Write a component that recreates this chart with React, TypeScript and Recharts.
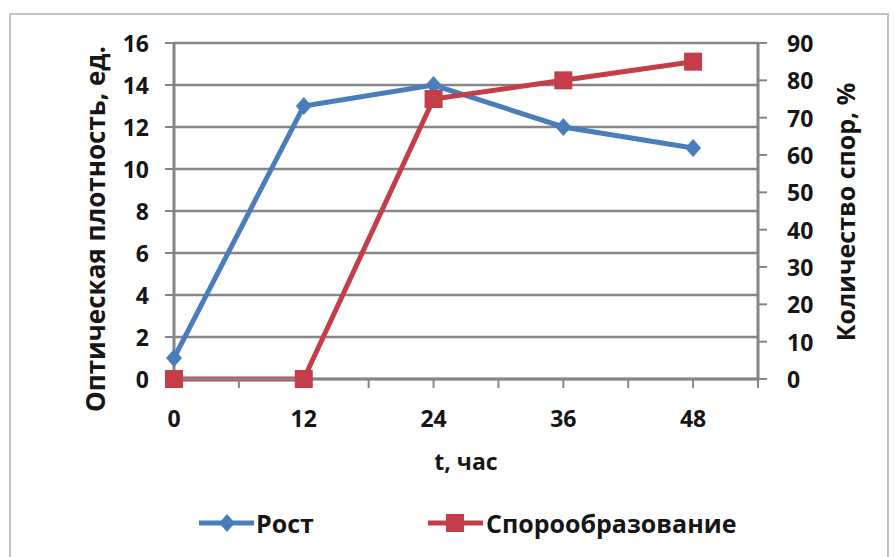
import { LineChart, Line, XAxis, YAxis, CartesianGrid, Legend, Label } from 'recharts';

const hours = [0, 12, 24, 36, 48];
const growth = [1, 13, 14, 12, 11];
const sporulation = [0, 0, 75, 80, 85];

const xTicks = [0, 6, 12, 18, 24, 30, 36, 42, 48, 54];
const xLabels = [0, 12, 24, 36, 48];
const leftTicks = [0, 2, 4, 6, 8, 10, 12, 14, 16];
const rightTicks = [0, 10, 20, 30, 40, 50, 60, 70, 80, 90];

const data = hours.map((t, i) => ({ t, growth: growth[i], spores: sporulation[i] }));

const BLUE = '#4A7EBB';
const RED = '#C43E4A';
const GRID = '#868686';
const INK = '#161616';
const FONT = "'Open Sans', sans-serif";
const TICK_SIZE = 23;

const Diamond = ({ cx, cy, color }: any) => (
    <path d={`M${cx},${cy - 9}L${cx + 8},${cy}L${cx},${cy + 9}L${cx - 8},${cy}Z`} fill={color} />
);

const Square = ({ cx, cy, color }: any) => (
    <rect x={cx - 9} y={cy - 9} width={18} height={18} fill={color} />
);

// tick text drawn by hand so the font size is exactly what we want
const xTick = ({ x, y, payload }: any) =>
    xLabels.includes(payload.value) ? (
        <text x={x} y={y} dy={17} textAnchor="middle" fill={INK} fontSize={TICK_SIZE} fontWeight={700} fontFamily={FONT}>
            {payload.value}
        </text>
    ) : (
        <g />
    );

const yTick = (anchor: 'start' | 'end') => ({ x, y, payload }: any) => (
    <text x={x} y={y} textAnchor={anchor} dominantBaseline="central" fill={INK} fontSize={TICK_SIZE} fontWeight={700} fontFamily={FONT}>
        {payload.value}
    </text>
);

const leftTitle = ({ viewBox }: any) => {
    const x = viewBox.x + 95;
    const y = viewBox.y + viewBox.height / 2 + 18;
    return (
        <text x={x} y={y} transform={`rotate(-90, ${x}, ${y})`} textAnchor="middle" dominantBaseline="central"
            fill={INK} fontSize={26} fontWeight={700} fontFamily={FONT}>
            Оптическая плотность, ед.
        </text>
    );
};

const rightTitle = ({ viewBox }: any) => {
    const x = viewBox.x + 87;
    const y = viewBox.y + viewBox.height / 2 + 1;
    return (
        <text x={x} y={y} transform={`rotate(-90, ${x}, ${y})`} textAnchor="middle" dominantBaseline="central"
            fill={INK} fontSize={25} fontWeight={700} fontFamily={FONT}>
            Количество спор, %
        </text>
    );
};

const bottomTitle = ({ viewBox }: any) => (
    <text x={viewBox.x + viewBox.width / 2} y={viewBox.y + 91} textAnchor="middle"
        fill={INK} fontSize={23} fontWeight={700} fontFamily={FONT}>
        t, час
    </text>
);

// legend drawn with the same marker shapes as the series
const renderLegend = () => (
    <svg width={894} height={40}>
        <line x1={199} y1={20} x2={254} y2={20} stroke={BLUE} strokeWidth={5} />
        <Diamond cx={227} cy={20} color={BLUE} />
        <text x={256} y={20} dominantBaseline="central" fill={INK} fontSize={25} fontWeight={700} fontFamily={FONT}>
            Рост
        </text>
        <line x1={428} y1={20} x2={483} y2={20} stroke={RED} strokeWidth={5} />
        <Square cx={455} cy={20} color={RED} />
        <text x={486} y={20} dominantBaseline="central" fill={INK} fontSize={25} fontWeight={700} fontFamily={FONT}>
            Спорообразование
        </text>
    </svg>
);

export default function App() {
    return (
        <div style={{ position: 'fixed', left: 0, top: 0, width: 894, height: 557, overflow: 'hidden', background: '#fff' }}>
            <div style={{ position: 'absolute', left: 9, top: 13, width: 876, height: 600, border: '2px solid #c4c4c4' }} />
            <div style={{ position: 'absolute', left: 0, top: 0 }}>
                <LineChart width={894} height={557} data={data} margin={{ top: 43, right: 36, bottom: 38, left: 0 }}>
                    <CartesianGrid yAxisId="left" vertical={false} stroke={GRID} strokeWidth={2.5} />
                    <XAxis
                        dataKey="t"
                        type="number"
                        domain={[0, 54]}
                        ticks={xTicks}
                        interval={0}
                        tick={xTick}
                        tickSize={9}
                        tickMargin={22}
                        height={100}
                        axisLine={{ stroke: GRID, strokeWidth: 3 }}
                        tickLine={{ stroke: GRID, strokeWidth: 2 }}
                    >
                        <Label content={bottomTitle} />
                    </XAxis>
                    <YAxis
                        yAxisId="left"
                        domain={[0, 16]}
                        ticks={leftTicks}
                        interval={0}
                        width={174}
                        tick={yTick('end')}
                        tickSize={9}
                        tickMargin={16}
                        axisLine={{ stroke: GRID, strokeWidth: 3 }}
                        tickLine={{ stroke: GRID, strokeWidth: 2 }}
                    >
                        <Label content={leftTitle} />
                    </YAxis>
                    <YAxis
                        yAxisId="right"
                        orientation="right"
                        domain={[0, 90]}
                        ticks={rightTicks}
                        interval={0}
                        width={100}
                        tick={yTick('start')}
                        tickSize={9}
                        tickMargin={20}
                        axisLine={{ stroke: GRID, strokeWidth: 3 }}
                        tickLine={{ stroke: GRID, strokeWidth: 2 }}
                    >
                        <Label content={rightTitle} />
                    </YAxis>
                    <Legend
                        verticalAlign="bottom"
                        content={renderLegend}
                        wrapperStyle={{ left: 0, top: 503, bottom: 'auto', width: 894, height: 40 }}
                    />
                    <Line
                        yAxisId="left"
                        dataKey="growth"
                        name="Рост"
                        stroke={BLUE}
                        strokeWidth={5}
                        dot={(p: any) => <Diamond key={`d-${p.index}`} cx={p.cx} cy={p.cy} color={BLUE} />}
                        activeDot={false}
                        isAnimationActive={false}
                    />
                    <Line
                        yAxisId="right"
                        dataKey="spores"
                        name="Спорообразование"
                        stroke={RED}
                        strokeWidth={5}
                        dot={(p: any) => <Square key={`s-${p.index}`} cx={p.cx} cy={p.cy} color={RED} />}
                        activeDot={false}
                        isAnimationActive={false}
                    />
                </LineChart>
            </div>
        </div>
    );
}
